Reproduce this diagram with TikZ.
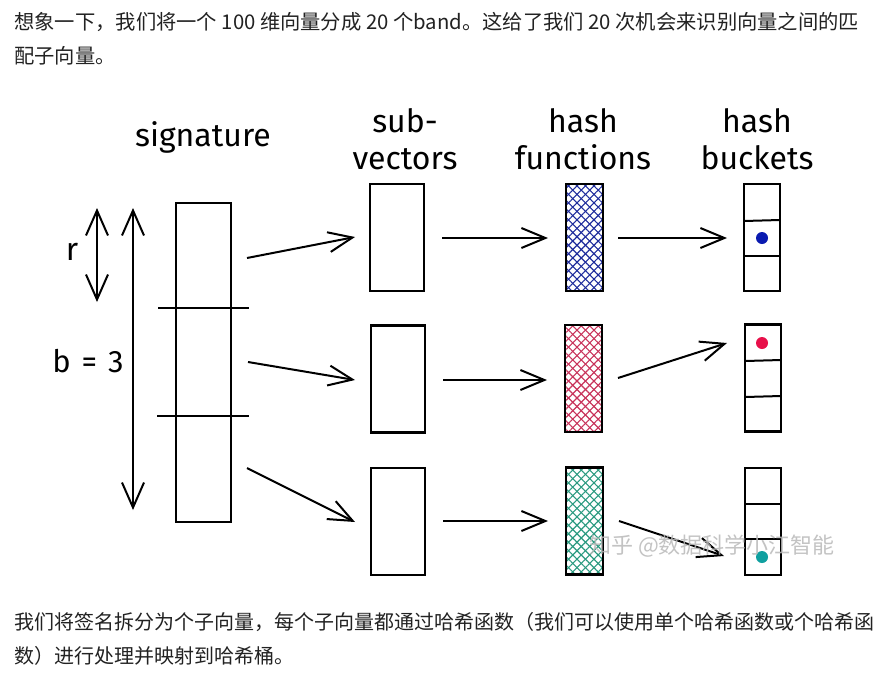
\documentclass[tikz,border=0pt]{standalone}
\usepackage{fontspec}
\setmainfont{Fira Sans}
\newfontfamily\cjk{Noto Sans CJK SC}
\usetikzlibrary{arrows.meta,patterns.meta}
\definecolor{txt}{HTML}{222222}
\definecolor{hblue}{HTML}{1E2C9C}
\definecolor{hred}{HTML}{C8325A}
\definecolor{hteal}{HTML}{2A9A80}
\definecolor{dblue}{HTML}{0A1AB0}
\definecolor{dred}{HTML}{E8104A}
\definecolor{dteal}{HTML}{10A0A0}
\tikzset{
  box/.style={draw, line width=2.2pt, inner sep=0pt, outer sep=0pt},
  sigbox/.style={box, minimum width=55pt, minimum height=319pt},
  subbox/.style={box, minimum width=54pt, minimum height=107pt},
  hfbox/.style={box, minimum width=37pt, minimum height=107pt},
  bkbox/.style={box, minimum width=36pt, minimum height=107pt},
  conn/.style={line width=2pt, -{Straight Barb[length=24pt,width=20pt,line width=2pt]}},
  dbl/.style={line width=2pt, {Straight Barb[length=25pt,width=22pt,line width=2pt]}-{Straight Barb[length=25pt,width=22pt,line width=2pt]}},
  head/.style={font=\fontsize{32}{37}\selectfont, align=center, inner sep=0pt},
  cn/.style={font=\cjk\fontsize{20.3}{22}\selectfont, text=txt, anchor=west, inner sep=0pt},
  cnb/.style={cn, font=\cjk\fontsize{20}{22}\selectfont},
  dot/.style={circle, inner sep=0pt, minimum size=12pt},
}
\newcommand{\hatchfill}[2]{%
  \path[pattern={Lines[angle=45,distance=6pt,line width=1.1pt]}, pattern color=#2] (#1.south west) rectangle (#1.north east);
  \path[pattern={Lines[angle=-45,distance=6pt,line width=1.1pt]}, pattern color=#2] (#1.south west) rectangle (#1.north east);
  \draw[line width=2.2pt] (#1.south west) rectangle (#1.north east);}
\begin{document}
\begin{tikzpicture}[x=1pt,y=-1pt]
\useasboundingbox[fill=white] (0,0) rectangle (894,678);

% text
\node[cn] (t1) at (14,22) {想象一下，我们将一个 100 维向量分成 20 个band。这给了我们 20 次机会来识别向量之间的匹};
\node[cn] (t2) at (14,56) {配子向量。};
\node[cnb] (t3) at (14,622) {我们将签名拆分为个子向量，每个子向量都通过哈希函数（我们可以使用单个哈希函数或个哈希函};
\node[cnb] (t4) at (14,656) {数）进行处理并映射到哈希桶。};

% headings
\node[head] (hsig) at (203,137) {signature};
\node[head] (hsub) at (405,139) {sub-\\vectors};
\node[head] (hhf) at (583,139) {hash\\functions};
\node[head] (hbk) at (757,139) {hash\\buckets};

% signature
\node[sigbox] (sig) at (203.5,362.5) {};
\draw[line width=2pt] (158,308) -- (249,308);
\draw[line width=2pt] (157,416) -- (249,416);

% r and b arrows
\coordinate (rt) at (97,208);
\coordinate (rb) at (97,302);
\draw[dbl] (rt) -- (rb);
\node[font=\fontsize{32}{34}\selectfont, inner sep=0pt] (rl) at (72,252) {r};
\coordinate (bt) at (133,208);
\coordinate (bb) at (133,510);
\draw[dbl] (bt) -- (bb);
\node[font=\fontsize{31}{33}\selectfont, inner sep=0pt] (bl) at (88,361) {b\hspace{0.35em}=\hspace{0.35em}3};

% sub-vectors
\node[subbox] (s1) at (397,237.5) {};
\node[subbox] (s2) at (398,379) {};
\node[subbox] (s3) at (398,521.5) {};

% hash functions
\node[hfbox] (h1) at (584.5,237.5) {};
\node[hfbox] (h2) at (583.5,378.5) {};
\node[hfbox] (h3) at (584.5,521) {};
\hatchfill{h1}{hblue}
\hatchfill{h2}{hred}
\hatchfill{h3}{hteal}

% buckets
\node[bkbox] (k1) at (762,237.5) {};
\node[bkbox] (k2) at (763,378) {};
\node[bkbox] (k3) at (763,521.5) {};
\draw[line width=2pt] (744,221) -- (780,220);
\draw[line width=2pt] (744,256) -- (780,256);
\draw[line width=2pt] (745,361) -- (781,360);
\draw[line width=2pt] (745,397) -- (781,396);
\draw[line width=2pt] (745,504) -- (781,504);
\draw[line width=2pt] (745,539) -- (781,539);
\node[dot, fill=dblue] (d1) at (762,238) {};
\node[dot, fill=dred] (d2) at (762,343) {};
\node[dot, fill=dteal] (d3) at (762,557) {};

% connectors signature -> sub-vectors
\coordinate (a1) at (247,258);
\coordinate (a2) at (248,362);
\coordinate (a3) at (247,468);
\draw[conn] (a1) -- (355,237) coordinate (e1);
\draw[conn] (a2) -- (355,380) coordinate (e2);
\draw[conn] (a3) -- (355,522) coordinate (e3);

% sub-vectors -> hash functions
\draw[conn, shorten <=18pt, shorten >=18pt] (s1.east |- 0,238) -- (h1.west |- 0,238);
\draw[conn, shorten <=18pt, shorten >=18pt] (s2.east |- 0,380) -- (h2.west |- 0,380);
\draw[conn, shorten <=18pt, shorten >=18pt] (s3.east |- 0,521) -- (h3.west |- 0,521);

% hash functions -> buckets
\coordinate (f2) at (618,378);
\coordinate (g2) at (727,343);
\coordinate (f3) at (619,521);
\coordinate (g3) at (724,556);
\draw[conn, shorten <=15pt, shorten >=17pt] (h1.east |- 0,238) -- (k1.west |- 0,238);
\draw[conn] (f2) -- (g2);
\draw[conn] (f3) -- (g3);

% watermark
\node[font=\cjk\fontsize{22}{24}\selectfont, text=gray!55, opacity=0.85, inner sep=0pt] (wm) at (712,546) {知乎 @数据科学小江智能};
\end{tikzpicture}
\end{document}
